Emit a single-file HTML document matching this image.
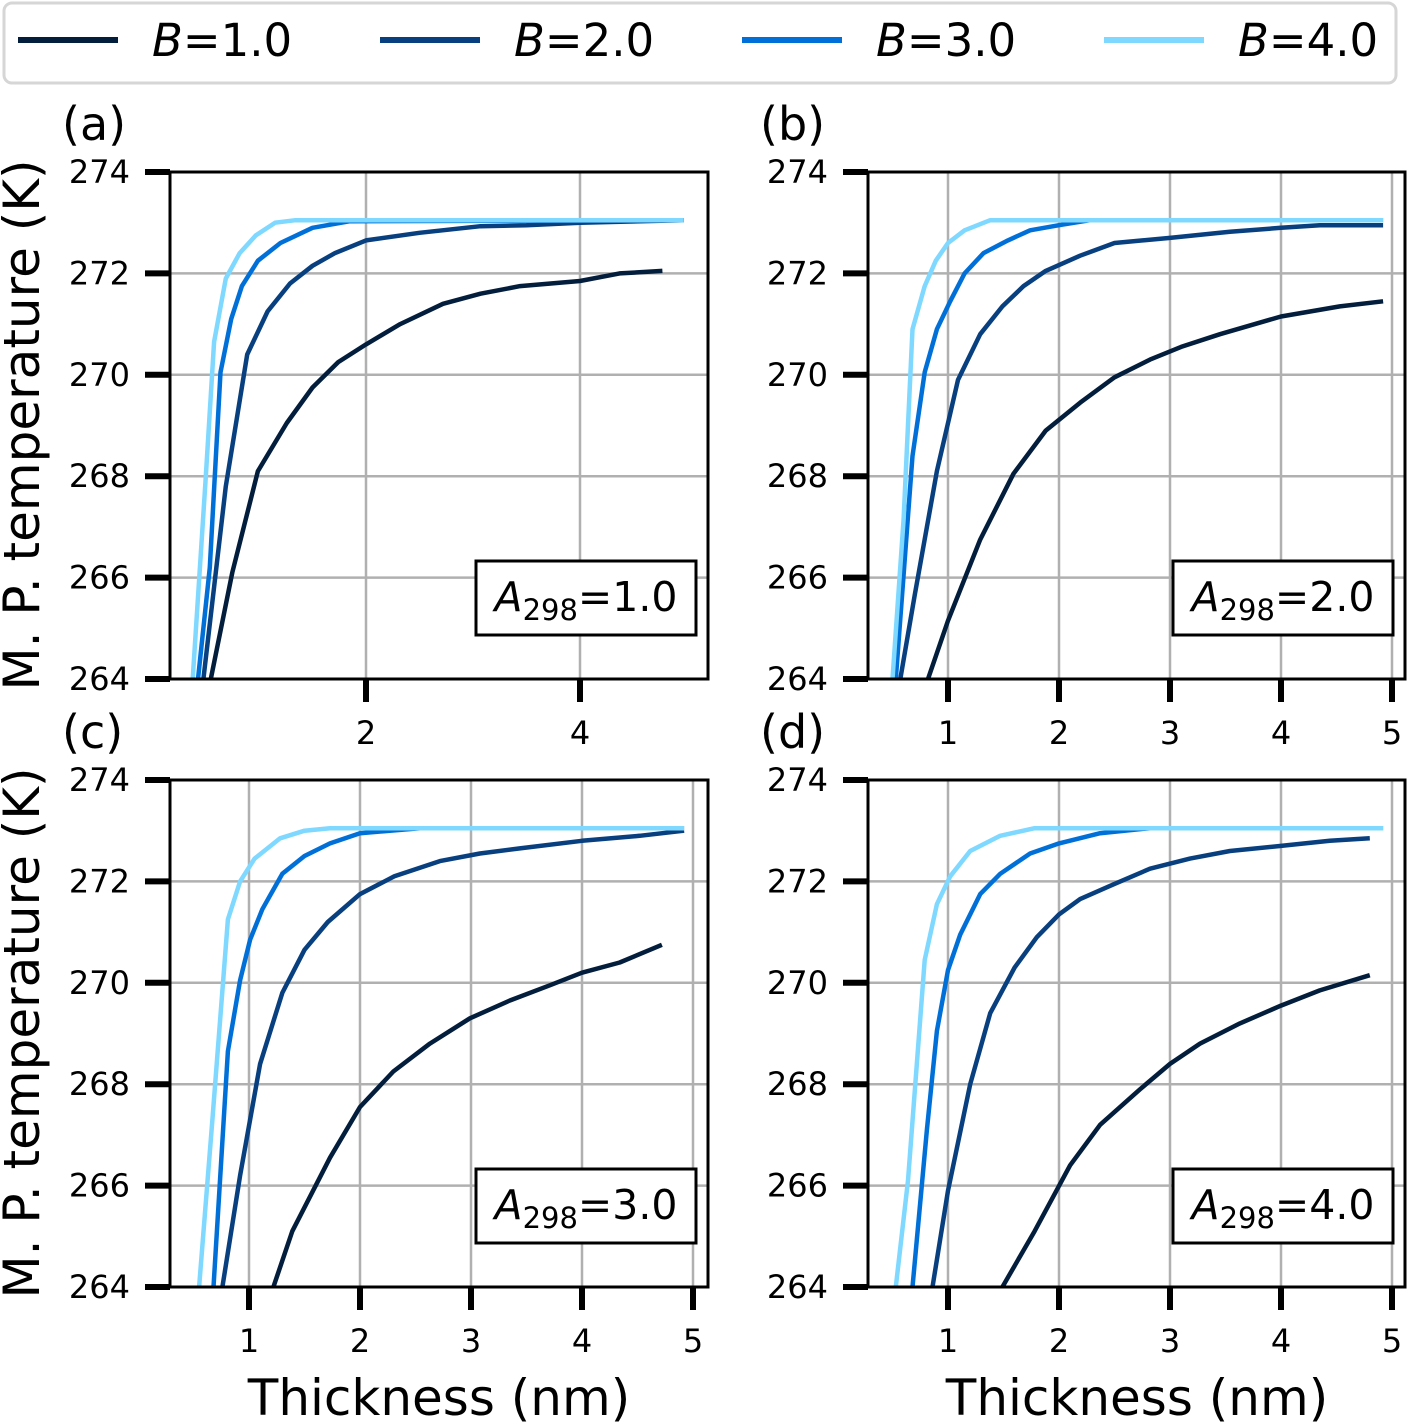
<!DOCTYPE html>
<html><head><meta charset="utf-8"><style>
html,body{margin:0;padding:0;background:#fff;}
svg{display:block;font-family:"DejaVu Sans","Liberation Sans",sans-serif;}
</style></head><body>
<svg id="chart" width="1408" height="1422" viewBox="0 0 1408 1422" xmlns="http://www.w3.org/2000/svg"></svg>
<script>
const seriesNames = ["B=1.0","B=2.0","B=3.0","B=4.0"];
const seriesColors = ["#031d3c","#083f7f","#0070d8","#7fd8ff"];
const yTicks = [264,266,268,270,272,274];
const panelLabels = ["(a)","(b)","(c)","(d)"];
const aValues = ["1.0","2.0","3.0","4.0"];
// panel a data [x, y]
const a_B1 = [[0.55,264],[0.75,266.1],[0.99,268.1],[1.26,269.05],[1.5,269.75],[1.74,270.25],[2.0,270.6],[2.32,271.0],[2.72,271.4],[3.07,271.6],[3.44,271.75],[4.0,271.85],[4.37,272.0],[4.77,272.05]];
const a_B2 = [[0.48,264],[0.69,267.8],[0.89,270.4],[1.08,271.25],[1.29,271.8],[1.5,272.15],[1.71,272.4],[2.0,272.65],[2.5,272.8],[3.07,272.93],[3.5,272.95],[4.0,273.0],[4.97,273.05]];
const a_B3 = [[0.43,264],[0.54,266.2],[0.64,270.05],[0.74,271.1],[0.84,271.75],[0.99,272.25],[1.2,272.6],[1.5,272.9],[1.85,273.03],[4.97,273.05]];
const a_B4 = [[0.38,264],[0.5,267.9],[0.58,270.65],[0.69,271.9],[0.82,272.4],[0.97,272.75],[1.15,273.0],[1.34,273.05],[4.97,273.05]];
// panel b
const b_B1 = [[0.82,264],[1.0,265.15],[1.29,266.75],[1.59,268.05],[1.88,268.9],[2.19,269.45],[2.5,269.95],[2.82,270.3],[3.1,270.55],[3.45,270.8],[4.0,271.15],[4.53,271.35],[4.92,271.45]];
const b_B2 = [[0.57,264],[0.7,265.65],[0.9,268.1],[1.09,269.9],[1.29,270.8],[1.49,271.35],[1.68,271.75],[1.88,272.05],[2.19,272.35],[2.5,272.6],[3.0,272.7],[3.54,272.82],[4.0,272.9],[4.35,272.95],[4.92,272.95]];
const b_B3 = [[0.53,264],[0.68,268.4],[0.79,270.05],[0.9,270.9],[1.02,271.45],[1.15,272.0],[1.32,272.4],[1.54,272.65],[1.74,272.85],[2.0,272.95],[2.28,273.05],[4.92,273.05]];
const b_B4 = [[0.5,264],[0.6,267.15],[0.68,270.9],[0.79,271.75],[0.89,272.25],[1.0,272.6],[1.15,272.85],[1.38,273.05],[4.92,273.05]];
// panel c
const c_B1 = [[1.22,264],[1.39,265.1],[1.73,266.55],[2.0,267.55],[2.3,268.25],[2.63,268.8],[2.99,269.3],[3.35,269.65],[3.71,269.95],[4.0,270.2],[4.34,270.4],[4.72,270.75]];
const c_B2 = [[0.76,264],[0.92,266.2],[1.1,268.4],[1.3,269.8],[1.5,270.65],[1.71,271.2],[2.0,271.75],[2.31,272.1],[2.72,272.4],[3.08,272.55],[3.44,272.65],[4.0,272.8],[4.52,272.9],[4.92,273.0]];
const c_B3 = [[0.68,264],[0.81,268.65],[0.92,270.05],[1.01,270.85],[1.12,271.45],[1.3,272.15],[1.5,272.5],[1.73,272.75],[2.0,272.95],[2.54,273.05],[4.92,273.05]];
const c_B4 = [[0.55,264],[0.67,267.3],[0.81,271.25],[0.92,272.0],[1.05,272.45],[1.28,272.85],[1.5,273.0],[1.73,273.05],[4.92,273.05]];
// panel d
const d_B1 = [[1.49,264],[1.78,265.1],[2.1,266.4],[2.37,267.2],[2.73,267.9],[3.0,268.4],[3.27,268.8],[3.63,269.2],[4.0,269.55],[4.35,269.85],[4.8,270.15]];
const d_B2 = [[0.86,264],[1.0,265.9],[1.2,268.0],[1.38,269.4],[1.6,270.3],[1.8,270.9],[2.0,271.35],[2.19,271.65],[2.5,271.95],[2.82,272.25],[3.18,272.45],[3.54,272.6],[4.0,272.7],[4.44,272.8],[4.8,272.85]];
const d_B3 = [[0.68,264],[0.81,267.1],[0.9,269.05],[1.0,270.25],[1.11,270.95],[1.29,271.75],[1.47,272.15],[1.74,272.55],[2.0,272.75],[2.37,272.95],[2.82,273.05],[4.92,273.05]];
const d_B4 = [[0.53,264],[0.64,266.1],[0.79,270.45],[0.9,271.55],[1.02,272.1],[1.2,272.6],[1.47,272.9],[1.78,273.05],[4.92,273.05]];

const panelData = [[a_B1,a_B2,a_B3,a_B4],[b_B1,b_B2,b_B3,b_B4],[c_B1,c_B2,c_B3,c_B4],[d_B1,d_B2,d_B3,d_B4]];
const xTicksA = [2,4];
const xTicks = [1,2,3,4,5];

const NS="http://www.w3.org/2000/svg";
const svg=document.getElementById('chart');
function el(tag,attrs,parent){const e=document.createElementNS(NS,tag);for(const k in attrs)e.setAttribute(k,attrs[k]);(parent||svg).appendChild(e);return e;}

const geo=[
 {l:170,r:708,t:172,b:679,x0:152,ppu:107,ticks:xTicksA},
 {l:868,r:1405,t:172,b:679,x0:837,ppu:111,ticks:xTicks},
 {l:170,r:708,t:780,b:1287,x0:138,ppu:111,ticks:xTicks},
 {l:868,r:1405,t:780,b:1287,x0:837,ppu:111,ticks:xTicks}
];

// legend
const lg=el('g',{});


el('rect',{x:4,y:3,width:1392,height:80,rx:8,fill:'#fff',stroke:'#d6d6d6','stroke-width':3},lg);
const legX=[18,380,742,1104];
seriesNames.forEach((n,i)=>{
  const g=el('g',{},lg);
  
  
  el('line',{x1:legX[i],x2:legX[i]+100,y1:40,y2:40,stroke:seriesColors[i],'stroke-width':6},g);
  const t=el('text',{x:legX[i]+134,y:56,'font-size':45,fill:'#000'},g);
  const it=el('tspan',{'font-style':'italic'},t);it.textContent='B';
  const r=el('tspan',{},t);r.textContent='='+n.split('=')[1];
});

geo.forEach((G,p)=>{
  const g=el('g',{});
  
  
  const ys=v=>G.b-(v-264)*(G.b-G.t)/10;
  const xs=v=>G.x0+v*G.ppu;
  yTicks.forEach(v=>{
    if(v>264&&v<274) el('line',{x1:G.l,x2:G.r,y1:ys(v),y2:ys(v),stroke:'#b0b0b0','stroke-width':2.5},g);
  });
  G.ticks.forEach(v=>{
    const x=xs(v); if(x>G.l&&x<G.r) el('line',{x1:x,x2:x,y1:G.t,y2:G.b,stroke:'#b0b0b0','stroke-width':2.5},g);
  });
  const cp=el('clipPath',{id:'clip'+p},g);
  el('rect',{x:G.l,y:G.t,width:G.r-G.l,height:G.b-G.t},cp);
  panelData[p].forEach((d,i)=>{
    const pts=d.map(q=>xs(q[0]).toFixed(1)+','+ys(q[1]).toFixed(1)).join(' ');
    const pl=el('polyline',{points:pts,fill:'none',stroke:seriesColors[i],'stroke-width':4.5,'stroke-linejoin':'round','clip-path':'url(#clip'+p+')'},g);
    
    
  });
  el('rect',{x:G.l,y:G.t,width:G.r-G.l,height:G.b-G.t,fill:'none',stroke:'#000','stroke-width':3},g);
  yTicks.forEach(v=>{
    el('line',{x1:G.l-25,x2:G.l,y1:ys(v),y2:ys(v),stroke:'#000','stroke-width':6},g);
    const t=el('text',{x:G.l-40,y:ys(v)+11,'font-size':32,'text-anchor':'end'},g);t.textContent=v;
  });
  G.ticks.forEach(v=>{
    const x=xs(v);
    el('line',{x1:x,x2:x,y1:G.b,y2:G.b+23,stroke:'#000','stroke-width':6},g);
    const t=el('text',{x:x,y:G.b+65,'font-size':32,'text-anchor':'middle'},g);t.textContent=v;
  });
  const pl=el('text',{x:G.l-108,y:G.t-32,'font-size':46},g);pl.textContent=panelLabels[p];
  
  
  const bx=G.r-232;
  const ab=el('g',{},g);
  
  
  el('rect',{x:bx,y:G.b-118,width:220,height:74,fill:'#fff',stroke:'#000','stroke-width':3},ab);
  const t=el('text',{x:bx+110,y:G.b-68,'font-size':41,'text-anchor':'middle'},ab);
  const a1=el('tspan',{'font-style':'italic'},t);a1.textContent='A';
  const a2=el('tspan',{'font-size':29,dy:9},t);a2.textContent='298';
  const a3=el('tspan',{dy:-9},t);a3.textContent='='+aValues[p];
});

[425,1033].forEach((cy,i)=>{
  const t=el('text',{x:0,y:0,'font-size':50,'text-anchor':'middle',transform:'translate(39,'+cy+') rotate(-90)'});
  t.textContent='M. P. temperature (K)';
  
  
});
[439,1137].forEach(cx=>{
  const t=el('text',{x:cx,y:1415,'font-size':50,'text-anchor':'middle'});
  t.textContent='Thickness (nm)';
  
  
});
</script>
</body></html>
